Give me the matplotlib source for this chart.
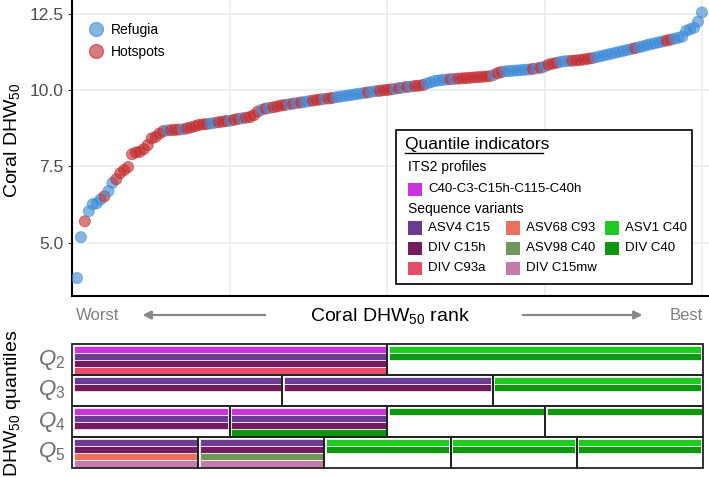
import numpy as np
import matplotlib
matplotlib.use("Agg")
import matplotlib.pyplot as plt
from matplotlib.patches import Rectangle
from matplotlib.lines import Line2D

plt.rcParams['font.family'] = 'Liberation Sans'
plt.rcParams['mathtext.fontset'] = 'custom'
plt.rcParams['mathtext.rm'] = 'Liberation Sans'
plt.rcParams['mathtext.it'] = 'Liberation Sans:italic'

# coral DHW50 values sorted by rank
dhw50 = [3.84, 5.18, 5.70, 6.03, 6.26, 6.29, 6.42, 6.52, 6.69, 6.96,
         7.08, 7.28, 7.38, 7.48, 7.90, 7.96, 7.98, 8.07, 8.20, 8.42,
         8.47, 8.58, 8.66, 8.68, 8.69, 8.70, 8.71, 8.72, 8.75, 8.78,
         8.82, 8.86, 8.88, 8.89, 8.91, 8.93, 8.95, 8.97, 8.99, 9.00,
         9.03, 9.06, 9.08, 9.10, 9.12, 9.18, 9.30, 9.36, 9.40, 9.42,
         9.44, 9.47, 9.50, 9.52, 9.54, 9.56, 9.58, 9.60, 9.62, 9.64,
         9.66, 9.68, 9.70, 9.72, 9.73, 9.75, 9.77, 9.79, 9.81, 9.83,
         9.85, 9.87, 9.89, 9.91, 9.93, 9.95, 9.97, 9.98, 10.00, 10.01,
         10.03, 10.05, 10.07, 10.09, 10.11, 10.12, 10.14, 10.15, 10.17, 10.22,
         10.26, 10.30, 10.32, 10.34, 10.35, 10.36, 10.37, 10.38, 10.39, 10.40,
         10.41, 10.42, 10.43, 10.44, 10.45, 10.46, 10.50, 10.56, 10.60, 10.62,
         10.63, 10.64, 10.65, 10.66, 10.67, 10.68, 10.70, 10.72, 10.74, 10.78,
         10.84, 10.87, 10.90, 10.93, 10.95, 10.96, 10.97, 10.98, 10.99, 11.01,
         11.03, 11.05, 11.08, 11.11, 11.14, 11.17, 11.20, 11.23, 11.26, 11.29,
         11.32, 11.35, 11.38, 11.41, 11.44, 11.48, 11.51, 11.54, 11.57, 11.60,
         11.63, 11.66, 11.69, 11.72, 11.76, 11.95, 12.00, 12.05, 12.25, 12.55]

# B = refugia, H = hotspot
site_type = list("BBHBBBBHBB" "HHHHHHHHHH" "HHHBHHHBHH" "HHHHBBHHHB"
                 "HHBHHHHBHB" "HHHHBHBHBB" "HHHBHHBBBB" "BBBBHBBHHH"
                 "HBHBHBHHHB" "BBBBBHBHHH" "HHHHHHBHHB" "BBBBBBHBHB"
                 "HHHBBBHHHH" "HHBBBBBBBB" "BBHBBBBBBB" "HHBBBBBBBB")
rank = np.arange(1, len(dhw50) + 1)

its2 = ['C40-C3-C15h-C115-C40h']
variants = ['ASV4 C15', 'DIV C15h', 'DIV C93a',
            'ASV68 C93', 'ASV98 C40', 'DIV C15mw',
            'ASV1 C40', 'DIV C40']
indicator_colors = {
    'C40-C3-C15h-C115-C40h': '#C935DB',
    'ASV4 C15': '#6C3C92',
    'DIV C15h': '#721B5E',
    'DIV C93a': '#E64D6B',
    'ASV68 C93': '#EC705B',
    'ASV98 C40': '#6E975A',
    'DIV C15mw': '#C47BA9',
    'ASV1 C40': '#1FCB22',
    'DIV C40': '#0E960F',
}

q_labels = [r'$Q_{\mathit{2}}$', r'$Q_{\mathit{3}}$', r'$Q_{\mathit{4}}$', r'$Q_{\mathit{5}}$']
q2 = [['C40-C3-C15h-C115-C40h', 'ASV4 C15', 'DIV C15h', 'DIV C93a'],
      ['ASV1 C40', 'DIV C40']]
q3 = [['ASV4 C15', 'DIV C15h'], ['ASV4 C15', 'DIV C15h'], ['ASV1 C40', 'DIV C40']]
q4 = [['C40-C3-C15h-C115-C40h', 'ASV4 C15', 'DIV C15h'],
      ['C40-C3-C15h-C115-C40h', 'ASV4 C15', 'DIV C15h', 'DIV C40'],
      ['DIV C40'], ['DIV C40']]
q5 = [['ASV4 C15', 'DIV C15h', 'ASV68 C93', 'DIV C15mw'],
      ['ASV4 C15', 'DIV C15h', 'ASV98 C40', 'DIV C15mw'],
      ['ASV1 C40', 'DIV C40'], ['ASV1 C40', 'DIV C40'], ['ASV1 C40', 'DIV C40']]
quantiles = [q2, q3, q4, q5]

W, H = 709, 478
fig = plt.figure(figsize=(W / 100, H / 100), dpi=100)


def px(x, y):
    # pixel (from top-left) to figure fraction
    return x / W, 1 - y / H


# ---- top panel: ranked scatter
ax = fig.add_axes([72 / W, 1 - 296 / H, (W - 72) / W, 296 / H])
blue, red = '#3E8AD8', '#C22A2E'
cols = [blue if t == 'B' else red for t in site_type]
ax.scatter(rank, dhw50, s=64, c=cols, alpha=0.62, edgecolors=cols, linewidths=0.6, zorder=3)
ax.set_xlim(-0.27, 161.8)
ax.set_ylim(3.25, 12.96)
ax.set_yticks([5.0, 7.5, 10.0, 12.5])
ax.set_yticklabels(['5.0', '7.5', '10.0', '12.5'])
ax.set_xticks([40, 80, 120, 160])
ax.tick_params(axis='x', length=0, labelbottom=False)
ax.tick_params(axis='y', length=3, color='#333333', labelsize=12.5, labelcolor='#4D4D4D', pad=3)
ax.grid(True, color='#EBEBEB', lw=1.2, zorder=0)
for side in ['top', 'right']:
    ax.spines[side].set_visible(False)
for side in ['left', 'bottom']:
    ax.spines[side].set_linewidth(1.5)
    ax.spines[side].set_color('black')

handles = [Line2D([], [], ls='none', marker='o', ms=10, color=blue, alpha=0.62, label='Refugia'),
           Line2D([], [], ls='none', marker='o', ms=10, color=red, alpha=0.62, label='Hotspots')]
ax.legend(handles=handles, loc='upper left', bbox_to_anchor=(0.0, 0.955), frameon=False,
          fontsize=10, handletextpad=0.1, labelspacing=0.55, borderaxespad=0.3)

fig.text(*px(12, 140), 'Coral DHW$_{50}$', rotation=90, ha='center', va='center', fontsize=14)

# quantile indicator legend box
bx0, by0, bx1, by1 = 396, 130, 692, 284
fig.patches.append(Rectangle(px(bx0, by1), (bx1 - bx0) / W, (by1 - by0) / H,
                             transform=fig.transFigure, fc='white', ec='black', lw=1.2, zorder=5))
fig.text(*px(405, 145), 'Quantile indicators', fontsize=12.5, va='center', ha='left', zorder=6)
fig.lines.append(Line2D([405 / W, 543 / W], [1 - 153 / H] * 2, transform=fig.transFigure,
                        color='black', lw=1, zorder=6))
fig.text(*px(408, 167), 'ITS2 profiles', fontsize=10, va='center', ha='left', zorder=6)
fig.text(*px(408, 209), 'Sequence variants', fontsize=10, va='center', ha='left', zorder=6)


def key(x, y, name):
    fig.patches.append(Rectangle(px(x, y + 6.5), 14 / W, 13 / H, transform=fig.transFigure,
                                 fc=indicator_colors[name], ec='none', zorder=6))
    fig.text(*px(x + 20, y), name, fontsize=9.5, va='center', ha='left', zorder=6)


key(408, 189, its2[0])
col_x = [408, 506, 605]
row_y = [228, 248, 268]
order = [variants[0:3], variants[3:6], variants[6:8]]
for ci, names in enumerate(order):
    for ri, name in enumerate(names):
        key(col_x[ci], row_y[ri], name)

# rank axis labels and arrows
fig.text(*px(98, 316), 'Worst', fontsize=12, color='#7F7F7F', ha='center', va='center')
fig.text(*px(686, 316), 'Best', fontsize=12, color='#7F7F7F', ha='center', va='center')
fig.text(*px(390, 316), 'Coral DHW$_{50}$ rank', fontsize=14, ha='center', va='center')
arrow_kw = dict(arrowstyle='-|>', color='#888888', lw=1.5, mutation_scale=12)
fig.add_artist(plt.annotate('', xy=px(140, 315), xytext=px(268, 315), xycoords='figure fraction',
                            textcoords='figure fraction', arrowprops=arrow_kw))
fig.add_artist(plt.annotate('', xy=px(645, 315), xytext=px(520, 315), xycoords='figure fraction',
                            textcoords='figure fraction', arrowprops=arrow_kw))

# ---- bottom panel: quantile indicator bars
ax2 = fig.add_axes([72 / W, 1 - 468 / H, 631 / W, 124 / H])
ax2.set_xlim(0, 1)
ax2.set_ylim(4, 0)
ax2.axis('off')
dx = 1.5 / 631
for i, row in enumerate(quantiles):
    n = len(row)
    for j, cell in enumerate(row):
        x0 = j / n
        for k, name in enumerate(cell):
            ax2.add_patch(Rectangle((x0 + dx, i + 0.06 + k * 0.225), 1 / n - 2 * dx, 0.222,
                                    fc=indicator_colors[name], ec=(1, 1, 1, 0.7), lw=0.7))
        ax2.add_patch(Rectangle((x0, i), 1 / n, 1, fill=False, ec='#222222', lw=1.3, clip_on=False))
    fig.text(*px(52, 359.5 + i * 31), q_labels[i], fontsize=16, color='#6E6E6E',
             ha='center', va='center')

fig.text(*px(13, 403), 'DHW$_{50}$ quantiles', rotation=90, ha='center', va='center', fontsize=14)

fig.savefig('out.png', dpi=100, facecolor='white')
